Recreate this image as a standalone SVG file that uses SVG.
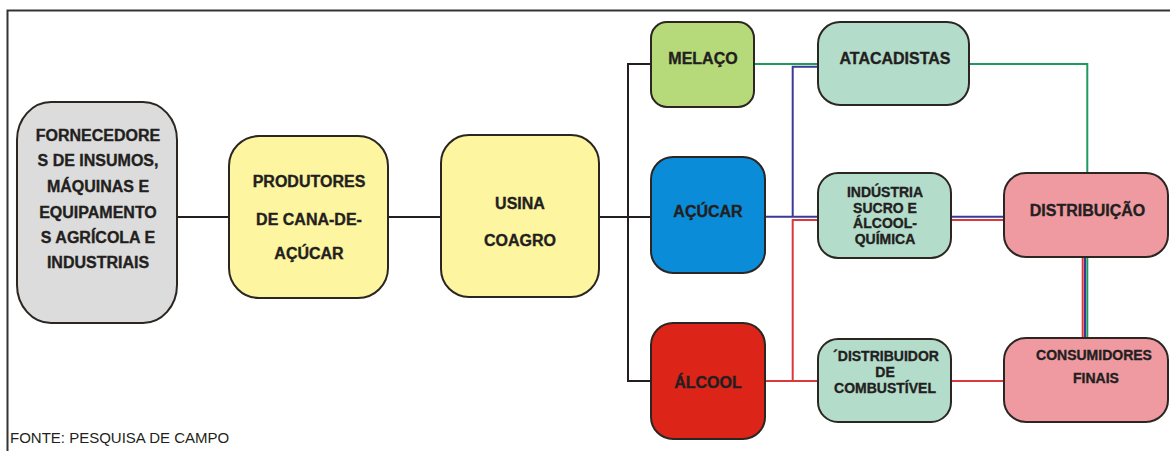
<svg xmlns="http://www.w3.org/2000/svg" width="1170" height="451" viewBox="0 0 1170 451">
<style>
.box{stroke:#2b2622;stroke-width:2}
.t{font-family:"Liberation Sans",Arial,sans-serif;font-weight:bold;fill:#231f20;stroke:#231f20;stroke-width:0.35;text-anchor:middle}
.t16{font-size:16px}
.t14{font-size:14px}
.k{stroke:#231f20;stroke-width:2;fill:none}
.g{stroke:#1f9a5c;stroke-width:2;fill:none}
.b{stroke:#3b3a98;stroke-width:2;fill:none}
.r{stroke:#d9393c;stroke-width:2;fill:none}
</style>
<rect width="1170" height="451" fill="#ffffff"/>
<path d="M7.5,451 V10.5 H1170" fill="none" stroke="#333" stroke-width="2"/>
<g id="connectors">
<path class="k" d="M177,217 H229 M388,217 H441 M599,217 H651 M651,64 H628 V381 H651"/>
<path class="g" d="M754,64 H818 M969,64 H1087.3 V173 M1087.3,257 V338"/>
<path class="b" d="M765,216.7 H818 M792.7,216.7 V66.7 H818 M951,216.7 H1004 M1085,257 V338"/>
<path class="r" d="M765,381 H818 M792.7,381 V220 H818 M951,220 H1004 M951,381 H1004 M1082.7,257 V338"/>
</g>
<g id="fornecedores">
<rect class="box" x="17" y="102" width="160" height="221" rx="34" ry="38" fill="#dcdcdc"/>
<text class="t t16" x="98" y="141">FORNECEDORE</text>
<text class="t t16" x="98" y="166">S DE INSUMOS,</text>
<text class="t t16" x="98" y="192">MÁQUINAS E</text>
<text class="t t16" x="98" y="218">EQUIPAMENTO</text>
<text class="t t16" x="98" y="243">S AGRÍCOLA E</text>
<text class="t t16" x="98" y="268">INDUSTRIAIS</text>
</g>
<g id="produtores">
<rect class="box" x="229" y="136" width="159" height="162" rx="30" fill="#fdf59f"/>
<text class="t t16" x="309" y="187">PRODUTORES</text>
<text class="t t16" x="309" y="225">DE CANA-DE-</text>
<text class="t t16" x="309" y="259">AÇÚCAR</text>
</g>
<g id="usina">
<rect class="box" x="441" y="135" width="158" height="162" rx="28" fill="#fdf59f"/>
<text class="t t16" x="520" y="209">USINA</text>
<text class="t t16" x="520" y="246">COAGRO</text>
</g>
<g id="melaco">
<rect class="box" x="651" y="22" width="103" height="85" rx="16" fill="#b6d979"/>
<text class="t t16" x="703" y="64">MELAÇO</text>
</g>
<g id="acucar">
<rect class="box" x="651" y="157" width="114" height="116" rx="22" fill="#0a8cd9"/>
<text class="t t16" x="708" y="217">AÇÚCAR</text>
</g>
<g id="alcool">
<rect class="box" x="651" y="323" width="114" height="116" rx="22" fill="#dc2419"/>
<text class="t t16" x="708" y="388">ÁLCOOL</text>
</g>
<g id="atacadistas">
<rect class="box" x="818" y="22" width="151" height="83" rx="22" fill="#b4dccb"/>
<text class="t t16" x="895" y="64">ATACADISTAS</text>
</g>
<g id="industria">
<rect class="box" x="818" y="173" width="133" height="85" rx="20" fill="#b4dccb"/>
<text class="t t14" x="885" y="197">INDÚSTRIA</text>
<text class="t t14" x="885" y="213">SUCRO E</text>
<text class="t t14" x="885" y="228">ÁLCOOL-</text>
<text class="t t14" x="885" y="244">QUÍMICA</text>
</g>
<g id="distribuidor">
<rect class="box" x="818" y="339" width="133" height="83" rx="20" fill="#b4dccb"/>
<text class="t t14" x="886" y="361">´DISTRIBUIDOR</text>
<text class="t t14" x="885" y="377">DE</text>
<text class="t t14" x="885" y="393">COMBUSTÍVEL</text>
</g>
<g id="distribuicao">
<rect class="box" x="1004" y="173" width="164" height="84" rx="22" fill="#ef9aa0"/>
<text class="t t16" x="1087.5" y="216">DISTRIBUIÇÃO</text>
</g>
<g id="consumidores">
<rect class="box" x="1004" y="338" width="164" height="84" rx="22" fill="#ef9aa0"/>
<text class="t t14" x="1094" y="360">CONSUMIDORES</text>
<text class="t t14" x="1096" y="383">FINAIS</text>
</g>
<text x="10" y="443" font-family="'Liberation Sans',Arial,sans-serif" font-size="15" fill="#231f20">FONTE: PESQUISA DE CAMPO</text>
</svg>
